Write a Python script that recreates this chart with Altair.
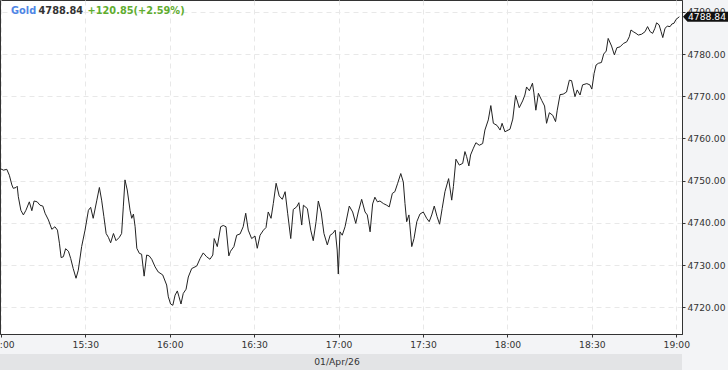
import altair as alt
import pandas as pd

# ---- data (minutes after 15:00, price) ----
minutes = [-0.3, 0.9, 2.1, 3.0, 3.9, 4.4, 5.4, 5.8, 6.2, 7.1, 8.0, 8.9, 10.1, 11.0, 11.8, 12.9,
           13.9, 14.9, 15.7, 16.9, 18.1, 19.2, 20.1, 20.8, 21.4, 22.2, 23.0, 24.0, 24.8, 25.7,
           26.7, 27.5, 28.7, 29.9, 31.1, 31.9, 32.8, 34.1, 35.0, 35.8, 36.6, 37.4, 38.2, 39.0,
           40.0, 40.9, 42.1, 42.9, 43.5, 44.1, 44.9, 45.9, 46.5, 47.1, 47.7, 48.3, 49.2, 50.0,
           50.9, 51.8, 52.7, 53.6, 54.8, 55.9, 57.5, 58.9, 59.5, 60.3, 61.1, 61.9, 62.7, 63.3,
           64.0, 64.8, 65.8, 66.6, 67.8, 69.6, 70.8, 71.9, 73.1, 74.3, 75.3, 75.8, 76.9, 78.1,
           79.0, 80.0, 81.0, 81.6, 82.8, 83.8, 85.0, 86.1, 87.0, 87.9, 89.1, 90.3, 91.1, 92.1,
           93.3, 94.2, 95.0, 96.0, 96.8, 97.8, 98.9, 100.0, 101.0, 101.9, 103.0, 103.9, 105.1,
           105.9, 106.9, 107.5, 108.9, 110.1, 111.0, 112.0, 112.8, 113.8, 114.8, 116.0, 117.0,
           117.9, 118.8, 119.5, 119.9, 120.5, 121.3, 122.3, 123.8, 125.0, 126.1, 127.0, 128.2,
           129.4, 130.2, 131.2, 132.1, 132.9, 133.8, 134.7, 135.9, 137.1, 138.0, 139.1, 140.0,
           141.0, 142.1, 143.0, 143.6, 144.2, 145.0, 146.0, 146.8, 147.8, 148.9, 150.1, 151.3,
           152.2, 153.1, 154.0, 155.0, 155.9, 156.8, 157.8, 159.1, 160.2, 160.8, 161.7, 162.9,
           164.1, 164.9, 165.5, 166.3, 166.9, 167.9, 168.8, 170.0, 171.2, 172.0, 173.2, 174.1,
           175.0, 176.3, 177.4, 178.1, 179.1, 180.9, 181.9, 182.9, 184.2, 185.4, 186.2, 186.8,
           187.8, 188.9, 189.4, 190.1, 191.0, 192.2, 193.2, 193.9, 194.9, 196.1, 197.1, 197.7,
           198.7, 199.8, 201.0, 202.0, 202.8, 204.0, 204.8, 205.8, 206.7, 208.2, 209.3, 210.0,
           210.8, 211.5, 212.3, 213.4, 214.2, 215.1, 215.8, 217.0, 218.0, 218.9, 220.0, 221.2,
           222.4, 223.3, 223.9, 224.7, 225.7, 226.5, 227.7, 228.9, 229.8, 230.7, 231.6, 232.4,
           233.0, 233.9, 234.6, 235.2, 236.0, 236.8, 237.8, 238.4, 239.2, 239.9, 241.1]
prices = [4752.9, 4752.5, 4752.7, 4751.3, 4749.0, 4748.2, 4748.4, 4748.7, 4746.2, 4743.0, 4741.9,
          4743.0, 4745.0, 4742.9, 4745.2, 4745.0, 4744.2, 4744.0, 4742.3, 4740.7, 4738.5, 4739.1,
          4738.3, 4735.2, 4731.8, 4732.0, 4733.9, 4733.3, 4731.6, 4729.2, 4726.9, 4728.8, 4734.4,
          4738.3, 4743.0, 4743.7, 4741.1, 4745.4, 4748.4, 4745.4, 4741.5, 4737.5, 4736.6, 4735.3,
          4737.5, 4735.8, 4736.6, 4737.5, 4743.8, 4750.2, 4747.8, 4743.0, 4741.1, 4742.1, 4739.1,
          4734.0, 4732.8, 4732.6, 4727.4, 4732.4, 4732.2, 4731.4, 4729.6, 4728.4, 4727.7, 4725.3,
          4722.5, 4720.8, 4720.5, 4722.9, 4723.9, 4722.5, 4720.8, 4723.3, 4724.3, 4727.2, 4729.2,
          4729.8, 4731.6, 4732.9, 4732.0, 4731.4, 4732.4, 4736.3, 4734.4, 4739.1, 4739.4, 4739.1,
          4732.2, 4733.3, 4734.4, 4737.1, 4737.4, 4739.1, 4742.3, 4738.3, 4736.3, 4736.9, 4734.0,
          4737.1, 4738.3, 4738.9, 4742.6, 4741.1, 4744.6, 4749.4, 4746.4, 4745.6, 4747.4, 4742.3,
          4736.3, 4743.2, 4743.8, 4744.8, 4739.5, 4744.2, 4743.4, 4738.3, 4735.8, 4740.3, 4745.2,
          4742.6, 4737.5, 4734.8, 4737.1, 4737.5, 4738.3, 4733.6, 4727.9, 4737.9, 4737.1, 4739.1,
          4744.0, 4742.6, 4739.9, 4742.6, 4745.6, 4742.6, 4741.9, 4737.9, 4744.5, 4746.1, 4745.0,
          4745.2, 4744.6, 4744.2, 4743.8, 4747.0, 4747.4, 4749.4, 4751.7, 4749.7, 4744.6, 4740.3,
          4741.9, 4734.4, 4736.3, 4740.3, 4742.1, 4742.6, 4741.1, 4740.3, 4741.9, 4744.0, 4741.5,
          4739.7, 4743.4, 4747.4, 4750.5, 4745.4, 4748.6, 4755.1, 4753.7, 4754.1, 4756.9, 4755.7,
          4753.5, 4756.1, 4757.7, 4759.0, 4758.4, 4758.8, 4762.0, 4764.4, 4767.8, 4763.6, 4763.1,
          4762.0, 4763.6, 4761.6, 4762.2, 4764.6, 4770.2, 4767.3, 4768.9, 4770.3, 4772.2, 4771.3,
          4773.1, 4770.8, 4766.7, 4770.7, 4769.0, 4767.7, 4763.6, 4766.1, 4765.5, 4764.0, 4766.7,
          4770.4, 4770.5, 4771.0, 4773.8, 4773.7, 4769.9, 4771.5, 4770.3, 4772.7, 4773.0, 4772.7,
          4771.7, 4775.4, 4777.4, 4777.8, 4778.0, 4780.0, 4780.7, 4783.7, 4781.9, 4779.8, 4781.5,
          4781.7, 4782.5, 4782.9, 4784.1, 4785.7, 4785.3, 4784.9, 4784.5, 4784.7, 4785.3, 4786.5,
          4785.3, 4784.9, 4786.1, 4787.4, 4786.9, 4785.3, 4783.9, 4786.1, 4786.6, 4786.5, 4787.1,
          4787.3, 4788.2, 4788.84]

x_tick_labels = ["15:00", "15:30", "16:00", "16:30", "17:00", "17:30", "18:00", "18:30", "19:00"]
y_tick_values = [4720, 4730, 4740, 4750, 4760, 4770, 4780, 4790]
instrument = "Gold"
last_price = 4788.84
change_text = "+120.85(+2.59%)"
date_label = "01/Apr/26"

FONT = "DejaVu Sans"
AX = 9.2

base = pd.Timestamp("2026-04-01 15:00:00")
df = pd.DataFrame({"time": base + pd.to_timedelta(minutes, unit="m"), "price": prices})


def dt(h, m, s=0):
    return alt.DateTime(year=2026, month=4, date=1, hours=h, minutes=m, seconds=s)


x_values = [dt(int(t[:2]), int(t[3:])) for t in x_tick_labels]
x_scale = alt.Scale(domain=[dt(14, 59, 41), dt(19, 2, 2)])
y_scale = alt.Scale(domain=[4713.7, 4792.8], nice=False, zero=False)

line = alt.Chart(df).mark_line(color="#222222", strokeWidth=1).encode(
    x=alt.X("time:T", scale=x_scale, title=None,
            axis=alt.Axis(values=x_values, format="%H:%M", grid=True, gridColor="#e8e8e8",
                          gridDash=[5, 4], tickSize=3, tickColor="#333333", domainColor="#333333",
                          labelColor="#333333", labelFont=FONT, labelFontSize=AX, labelPadding=3,
                          labelFlush=False, labelOverlap=False, labelBound=False)),
    y=alt.Y("price:Q", scale=y_scale, title=None,
            axis=alt.Axis(orient="right", values=y_tick_values, format=".2f", grid=True,
                          gridColor="#e8e8e8", gridDash=[5, 4], tickSize=3, tickColor="#333333",
                          domainColor="#333333", labelColor="#333333", labelFont=FONT,
                          labelFontSize=AX, labelPadding=2, labelOverlap=False, labelBound=False)),
)

one = alt.Data(values=[{"k": 1}])

t1 = alt.Chart(one).mark_text(text=instrument, align="left", baseline="middle", font=FONT,
                              fontSize=9.8, fontWeight="bold", color="#4f86e6").encode(
    x=alt.value(11), y=alt.value(11))
t2 = alt.Chart(one).mark_text(text=f"{last_price:.2f}", align="left", baseline="middle", font=FONT,
                              fontSize=9.8, fontWeight="bold", color="#333333").encode(
    x=alt.value(38.5), y=alt.value(11))
t3 = alt.Chart(one).mark_text(text=change_text, align="left", baseline="middle", font=FONT,
                              fontSize=9.8, fontWeight="bold", color="#5fad2f").encode(
    x=alt.value(87.5), y=alt.value(11))

band = alt.Chart(one).mark_rect(color="#e3e4e6").encode(
    x=alt.value(0), x2=alt.value(682), y=alt.value(354), y2=alt.value(370))
date_text = alt.Chart(one).mark_text(text=date_label, align="center", baseline="middle", font=FONT,
                                     fontSize=AX, color="#333333").encode(
    x=alt.value(337), y=alt.value(361.5))

tag_df = pd.DataFrame({"price": [last_price], "label": [f"{last_price:.2f}"]})
tag_shape = "M -1 0 L -0.8 -0.22 L 1 -0.22 L 1 0.22 L -0.8 0.22 Z"
tag = alt.Chart(tag_df).mark_point(shape=tag_shape, filled=True, size=2025, color="#111111",
                                   opacity=1, strokeWidth=0).encode(
    x=alt.value(705.5), y=alt.Y("price:Q", scale=y_scale))
tag_text = alt.Chart(tag_df).mark_text(align="left", baseline="middle", font=FONT, fontSize=AX,
                                       color="white").encode(
    x=alt.value(688), y=alt.Y("price:Q", scale=y_scale), text="label:N")

chart = alt.layer(line, band, date_text, t1, t2, t3, tag, tag_text).properties(
    width=682, height=334, background="#f3f4f6",
    padding={"left": 0, "top": 0, "right": 46, "bottom": 36},
    autosize=alt.AutoSizeParams(type="none"),
).configure_view(fill="white", stroke="#333333", strokeWidth=1)

chart.save("out.html", embed_options={"renderer": "svg", "actions": False})
